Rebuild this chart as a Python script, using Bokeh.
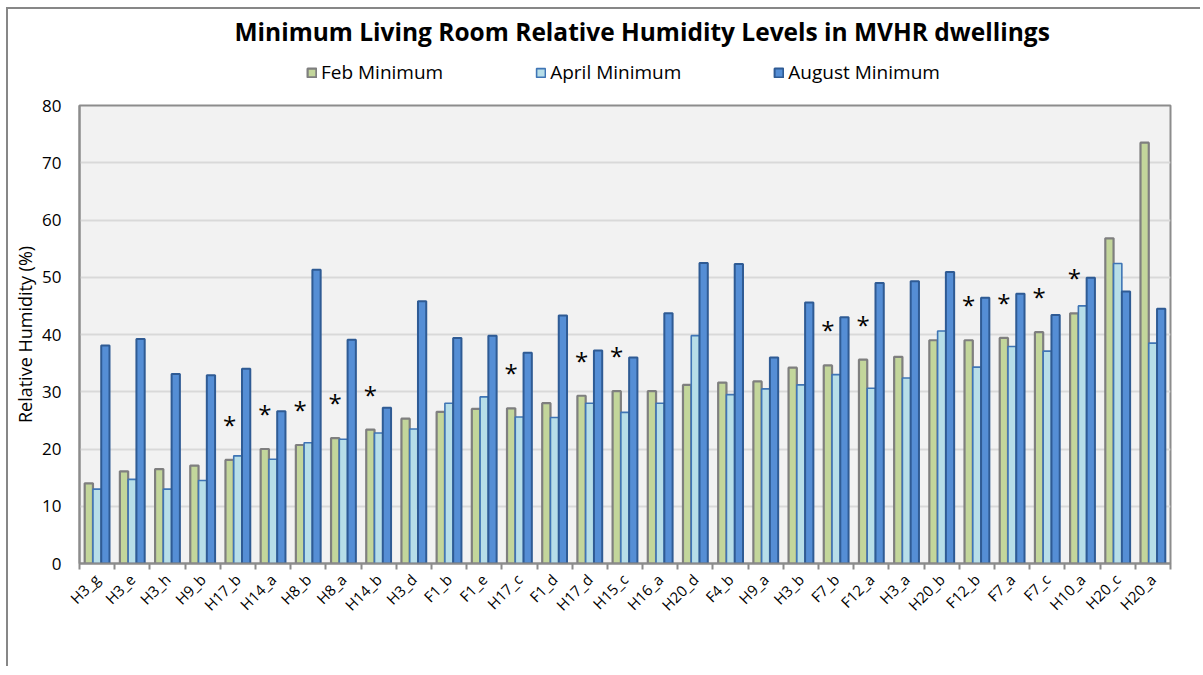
import math
from bokeh.plotting import figure
from bokeh.layouts import column
from bokeh.models import ColumnDataSource, FixedTicker, Legend, LegendItem, Range1d
from bokeh.core.properties import value
from bokeh.transform import dodge
from bokeh.embed import file_html
from bokeh.resources import INLINE

categories = ["H3_g", "H3_e", "H3_h", "H9_b", "H17_b", "H14_a", "H8_b", "H8_a", "H14_b", "H3_d",
              "F1_b", "F1_e", "H17_c", "F1_d", "H17_d", "H15_c", "H16_a", "H20_d", "F4_b", "H9_a",
              "H3_b", "F7_b", "F12_a", "H3_a", "H20_b", "F12_b", "F7_a", "F7_c", "H10_a", "H20_c", "H20_a"]
feb_min = [14.0, 16.1, 16.5, 17.1, 18.1, 20.0, 20.7, 21.9, 23.4, 25.3,
           26.5, 27.0, 27.1, 28.0, 29.3, 30.1, 30.1, 31.2, 31.6, 31.8,
           34.2, 34.6, 35.6, 36.1, 39.0, 39.0, 39.4, 40.4, 43.7, 56.8, 73.5]
apr_min = [13.0, 14.7, 13.0, 14.5, 18.8, 18.2, 21.1, 21.7, 22.8, 23.5,
           28.0, 29.1, 25.6, 25.5, 28.0, 26.4, 28.0, 39.8, 29.5, 30.5,
           31.2, 33.0, 30.6, 32.4, 40.6, 34.3, 37.9, 37.1, 45.0, 52.4, 38.5]
aug_min = [38.1, 39.2, 33.1, 32.9, 34.0, 26.6, 51.3, 39.1, 27.2, 45.8,
           39.4, 39.8, 36.8, 43.3, 37.2, 36.0, 43.7, 52.5, 52.3, 36.0,
           45.6, 43.0, 49.0, 49.3, 50.9, 46.4, 47.1, 43.4, 49.9, 47.5, 44.5]
flagged = ["H17_b", "H14_a", "H8_b", "H8_a", "H14_b", "H17_c", "H17_d", "H15_c",
           "F7_b", "F12_a", "F12_b", "F7_a", "F7_c", "H10_a"]
series_names = ["Feb Minimum", "April Minimum", "August Minimum"]
series_cols = ["feb", "apr", "aug"]
y_ticks = [0, 10, 20, 30, 40, 50, 60, 70, 80]

fills = ["#c3d69b", "#b7dee8", "#558ed5"]
lines = ["#7f7f7f", "#3f75b5", "#2f5b94"]
lwidths = [2.2, 1.6, 2.0]

n = len(categories)
centers = [i + 0.5 for i in range(n)]
bw = 0.235
W = 1192

src = ColumnDataSource(dict(x=centers, cat=categories, feb=feb_min, apr=apr_min, aug=aug_min))

# ---------- header figure: title + legend ----------
head = figure(width=W, height=84, output_backend="svg", toolbar_location=None,
              x_axis_type=None, y_axis_type=None,
              x_range=Range1d(n + 1, n + 2), y_range=Range1d(0, 1),
              min_border_left=0, min_border_right=0, min_border_top=38, min_border_bottom=0,
              background_fill_color="white", border_fill_color="white")
head.outline_line_color = None
head.grid.grid_line_color = None
head.title.text = "Minimum Living Room Relative Humidity Levels in MVHR dwellings"
head.title.align = "left"
head.title.offset = 155
head.title.text_font = "Open Sans"
head.title.text_font_size = "24.5px"
head.title.text_font_style = "bold"
head.title.text_color = "black"
head.title.standoff = 0

items = []
for name, col, fc, lc, lw in zip(series_names, series_cols, fills, lines, lwidths):
    r = head.vbar(x="x", top=col, width=bw, source=src, fill_color=fc,
                  line_color=lc, line_width=lw)
    r.visible = False  # only its legend swatch is shown
    items.append(LegendItem(label=name, renderers=[r]))
legend = Legend(items=items, orientation="horizontal", location=(227, 8),
                label_text_font="Open Sans", label_text_font_size="19px",
                label_text_color="black", click_policy="none",
                glyph_width=11, glyph_height=11, label_standoff=4, spacing=92,
                border_line_color=None, background_fill_alpha=0,
                padding=0, margin=0)
head.add_layout(legend, "center")

# ---------- main chart ----------
p = figure(width=W, height=573, output_backend="svg", toolbar_location=None,
           title_location=None,
           x_range=Range1d(0, n), y_range=Range1d(0, 80),
           min_border_left=71, min_border_right=30, min_border_top=12, min_border_bottom=103,
           background_fill_color="#f2f2f2", border_fill_color="white")

p.vbar(x=dodge("x", -bw, range=p.x_range), top="feb", width=bw, source=src,
       fill_color=fills[0], line_color=lines[0], line_width=lwidths[0])
p.vbar(x="x", top="apr", width=bw, source=src,
       fill_color=fills[1], line_color=lines[1], line_width=lwidths[1])
p.vbar(x=dodge("x", bw, range=p.x_range), top="aug", width=bw, source=src,
       fill_color=fills[2], line_color=lines[2], line_width=lwidths[2])

# asterisks above Feb bars of flagged dwellings
sx, sy = [], []
for c, x, f in zip(categories, centers, feb_min):
    if c in flagged:
        sx.append(x - bw)
        sy.append(f + 6.2)
p.text(x=sx, y=sy, text=["*"] * len(sx), text_align="center", text_baseline="middle",
       text_font=value("Open Sans"), text_font_size="24px", text_color="black")

p.xaxis.ticker = FixedTicker(ticks=centers, minor_ticks=list(range(n + 1)))
p.xaxis.major_label_overrides = {c: lab for c, lab in zip(centers, categories)}
p.xaxis.major_label_orientation = math.pi / 4
p.xaxis.major_tick_line_color = None
p.xaxis.minor_tick_in = 0
p.xaxis.minor_tick_out = 6
p.xaxis.minor_tick_line_color = "#8c8c8c"
p.xaxis.minor_tick_line_width = 2
p.xaxis.axis_line_color = "#8c8c8c"
p.xaxis.axis_line_width = 2
p.xaxis.major_label_text_font = "Open Sans"
p.xaxis.major_label_text_font_size = "15px"
p.xaxis.major_label_text_color = "black"
p.xaxis.major_label_standoff = 7

p.yaxis.ticker = FixedTicker(ticks=y_ticks)
p.yaxis.major_tick_line_color = None
p.yaxis.minor_tick_line_color = None
p.yaxis.axis_line_color = "#8c8c8c"
p.yaxis.axis_line_width = 2
p.yaxis.major_label_text_font = "Open Sans"
p.yaxis.major_label_text_font_size = "17px"
p.yaxis.major_label_text_color = "black"
p.yaxis.major_label_standoff = 12
p.yaxis.axis_label = "Relative Humidity (%)"
p.yaxis.axis_label_text_font = "Open Sans"
p.yaxis.axis_label_text_font_size = "18px"
p.yaxis.axis_label_text_font_style = "normal"
p.yaxis.axis_label_text_color = "black"
p.yaxis.axis_label_standoff = 2

p.xgrid.grid_line_color = None
p.ygrid.ticker = FixedTicker(ticks=y_ticks)
p.ygrid.grid_line_color = "#d9d9d9"
p.ygrid.grid_line_width = 2

p.outline_line_color = "#8c8c8c"
p.outline_line_width = 2

page = column(head, p, spacing=0,
              styles={"border-left": "2px solid #878787", "border-top": "2px solid #878787",
                      "margin-left": "6px", "margin-top": "7px"})

open("out.html", "w").write(file_html(page, INLINE))
